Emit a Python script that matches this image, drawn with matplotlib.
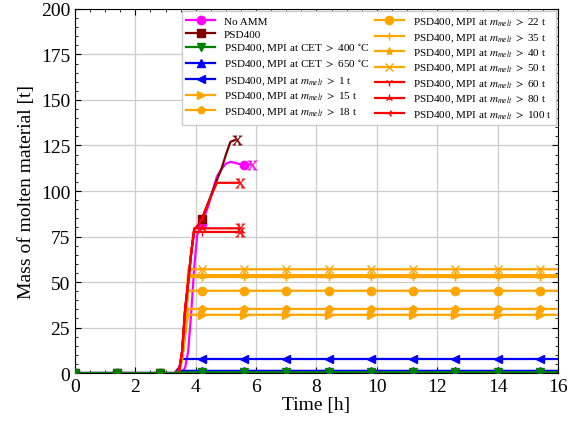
import numpy as np
import matplotlib
matplotlib.use("Agg")
import matplotlib.pyplot as plt
from matplotlib.ticker import AutoMinorLocator

nan = np.nan

# common time base [h]
time_h = [0, 1.4, 2.8, 3.3, 3.45, 3.55, 3.65, 3.75, 3.85, 3.95, 4.05, 4.2, 4.4, 4.7,
          4.85, 5.0, 5.15, 5.3, 5.4, 5.6, 5.8, 7.0, 8.4, 9.8, 11.2, 12.6, 14.0, 15.4, 16.0]

# molten mass [t]
no_amm = [0, 0, 0, 0, 0, 0.5, 3, 12, 33, 58, 76, 82, 91, 108, 112, 115, 116, 115.5, 115,
          114.5, 114.5] + [nan] * 8
psd400 = [0, 0, 0, 0, 1, 12, 35, 50, 66, 79, 80.5, 84.5, 93, 106, 112, 120, 127, 128] + [nan] * 11
cet400 = [0, 0, 0, 0] + [0.4] * 25
cet650 = [0, 0, 0, 0] + [1.2] * 25
m1 = [nan, nan, nan, 0, 3] + [7.7] * 24
m15 = [nan, nan, nan, 0, 1, 8, 22] + [32.0] * 22
m18 = [nan, nan, nan, 0, 1, 8, 22] + [35.2] * 22
m22 = [nan, nan, nan, 0, 1, 8, 22] + [45.2] * 22
m35 = [nan, nan, nan, 0, 1, 8, 22] + [52.7] * 22
m40 = [nan, nan, nan, 0, 1, 8, 22] + [53.8] * 22
m50 = [nan, nan, nan, 0, 1, 8, 22] + [57.0] * 22
m60 = [nan, nan, nan, 0, 1, 12, 35, 50, 66] + [77.5] * 10 + [nan] * 10
m80 = [nan, nan, nan, 0, 1, 12, 35, 50, 66] + [79.5] * 10 + [nan] * 10
m100 = [nan, nan, nan, 0, 1, 12, 35, 50, 66, 79, 80.5, 84.5, 93] + [104.5] * 6 + [nan] * 10

labels = [
    "No AMM",
    "PSD400",
    r"PSD400, MPI at CET $>$ 400 $^{\circ}$C",
    r"PSD400, MPI at CET $>$ 650 $^{\circ}$C",
    r"PSD400, MPI at $m_{melt}$ $>$ 1 t",
    r"PSD400, MPI at $m_{melt}$ $>$ 15 t",
    r"PSD400, MPI at $m_{melt}$ $>$ 18 t",
    r"PSD400, MPI at $m_{melt}$ $>$ 22 t",
    r"PSD400, MPI at $m_{melt}$ $>$ 35 t",
    r"PSD400, MPI at $m_{melt}$ $>$ 40 t",
    r"PSD400, MPI at $m_{melt}$ $>$ 50 t",
    r"PSD400, MPI at $m_{melt}$ $>$ 60 t",
    r"PSD400, MPI at $m_{melt}$ $>$ 80 t",
    r"PSD400, MPI at $m_{melt}$ $>$ 100 t",
]
series = [no_amm, psd400, cet400, cet650, m1, m15, m18, m22, m35, m40, m50, m60, m80, m100]
colors = ["#FF00FF", "#800000", "#008000", "#0000FF", "#0000FF", "#FFA500", "#FFA500",
          "#FFA500", "#FFA500", "#FFA500", "#FFA500", "#FF0000", "#FF0000", "#FF0000"]
markers = ["o", "s", "v", "^", "<", ">", "p", "o", "+", "*", "x", "1", "2", "3"]
ends_early = [True, True, False, False, False, False, False, False, False, False, False,
              True, True, True]

plt.rcParams["font.family"] = ["Liberation Serif", "DejaVu Serif"]
plt.rcParams["mathtext.fontset"] = "stix"

fig = plt.figure(figsize=(5.79, 4.27), dpi=100)
ax = fig.add_axes([0.1295, 0.1241, 0.8342, 0.8525])

t = np.array(time_h)
mark_idx = [i for i, v in enumerate(time_h) if v in (0, 1.4, 2.8, 4.2, 5.6, 7.0, 8.4, 9.8,
                                                      11.2, 12.6, 14.0, 15.4)]

for k, (y, lab, c, m, early) in enumerate(zip(series, labels, colors, markers, ends_early)):
    y = np.array(y, dtype=float)
    z = 3 if k != 2 else 4
    ax.plot(t, y, color=c, marker=m, markevery=mark_idx, lw=1.6, ms=6, label=lab, zorder=z)
    if early:
        last = np.where(~np.isnan(y))[0][-1]
        ax.plot(t[last] + 0.08, y[last], color=c, marker=r"$\mathrm{X}$", ms=7, mew=0.3,
                ls="none", zorder=z)

ax.set_xlim(0, 16)
ax.set_ylim(0, 200)
ax.set_xticks(np.arange(0, 17, 2))
ax.set_yticks(np.arange(0, 201, 25))
ax.xaxis.set_minor_locator(AutoMinorLocator())
ax.yaxis.set_minor_locator(AutoMinorLocator())
ax.tick_params(which="both", direction="in", top=True, right=True, labelsize=14)
ax.tick_params(which="major", length=4)
ax.tick_params(which="minor", length=2)
ax.grid(True, which="major", color="#cccccc", lw=0.9, zorder=0)
ax.set_axisbelow(True)
ax.set_xlabel("Time [h]", fontsize=14, labelpad=1)
ax.set_ylabel("Mass of molten material [t]", fontsize=14)

ax.legend(ncol=2, loc="upper right", fontsize=8.0, handlelength=2.6, columnspacing=0.5,
          labelspacing=0.27, borderaxespad=0.2, framealpha=1, edgecolor="#cccccc",
          fancybox=False)

fig.savefig("out.png", dpi=100)
